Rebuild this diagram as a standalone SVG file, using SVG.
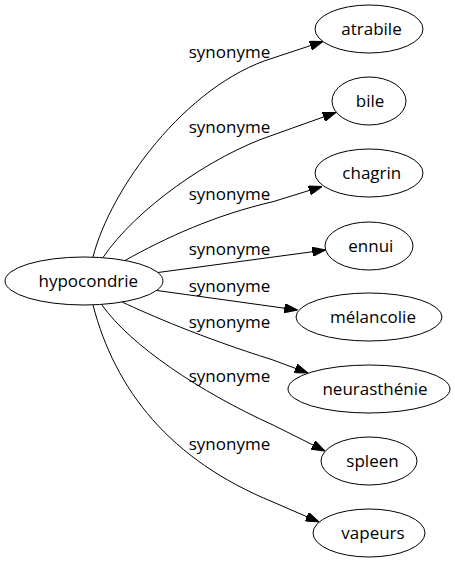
<svg xmlns="http://www.w3.org/2000/svg" width="455" height="563" viewBox="0 0 455 563">
<style>
.n ellipse{fill:#fff;stroke:#000;stroke-width:1}
text{font-family:"Open Sans","Noto Sans",sans-serif;font-size:17px;fill:#000;text-anchor:middle}
.e path{fill:none;stroke:#000;stroke-width:1;marker-end:url(#arr)}
</style>
<defs>
<marker id="arr" markerUnits="userSpaceOnUse" viewBox="0 0 13.3 9.4" markerWidth="13.3" markerHeight="9.4" refX="13.3" refY="4.7" orient="auto">
<path d="M0,0 L13.3,4.7 L0,9.4 z" fill="#000" stroke="#000" stroke-width="1"/>
</marker>
</defs>
<rect width="455" height="563" fill="#fff"/>
<g id="edges" class="e">
<path d="M93,257 C110,190 185,85 273,58 L323,41.5"/>
<path d="M103,257.5 C135,210 210,156 273,135 L336,112.5"/>
<path d="M125,260.5 C165,238 215,215 273,201.7 L322,186.5"/>
<path d="M158,272.5 L325.5,250"/>
<path d="M157,290.5 L297.5,310"/>
<path d="M122,302 C150,315 200,337 273,360 L308,373"/>
<path d="M102,305 C130,345 200,392 273,425 L325,451"/>
<path d="M93,305 C115,390 170,460 273,502 L319,522"/>
<text x="229.5" y="58.3">synonyme</text>
<text x="229.5" y="133">synonyme</text>
<text x="229.5" y="200">synonyme</text>
<text x="229.5" y="255">synonyme</text>
<text x="229.5" y="291.7">synonyme</text>
<text x="229.5" y="328.3">synonyme</text>
<text x="229.5" y="382">synonyme</text>
<text x="229.5" y="450">synonyme</text>
</g>
<g id="hypocondrie" class="n"><ellipse cx="84" cy="281" rx="79" ry="24"/><text x="88.3" y="286.7">hypocondrie</text></g>
<g id="atrabile" class="n"><ellipse cx="369" cy="29" rx="54" ry="24"/><text x="371.5" y="35">atrabile</text></g>
<g id="bile" class="n"><ellipse cx="369" cy="101" rx="37" ry="24"/><text x="370" y="107">bile</text></g>
<g id="chagrin" class="n"><ellipse cx="369" cy="173" rx="54" ry="24"/><text x="371.8" y="179">chagrin</text></g>
<g id="ennui" class="n"><ellipse cx="369" cy="246" rx="44" ry="24"/><text x="370.8" y="252">ennui</text></g>
<g id="melancolie" class="n"><ellipse cx="369" cy="317" rx="73" ry="24"/><text x="373" y="323">mélancolie</text></g>
<g id="neurasthenie" class="n"><ellipse cx="369" cy="389" rx="81" ry="24"/><text x="375" y="395">neurasthénie</text></g>
<g id="spleen" class="n"><ellipse cx="369" cy="461" rx="48" ry="24"/><text x="372.5" y="467">spleen</text></g>
<g id="vapeurs" class="n"><ellipse cx="369" cy="533" rx="56" ry="24"/><text x="373" y="539">vapeurs</text></g>
</svg>
